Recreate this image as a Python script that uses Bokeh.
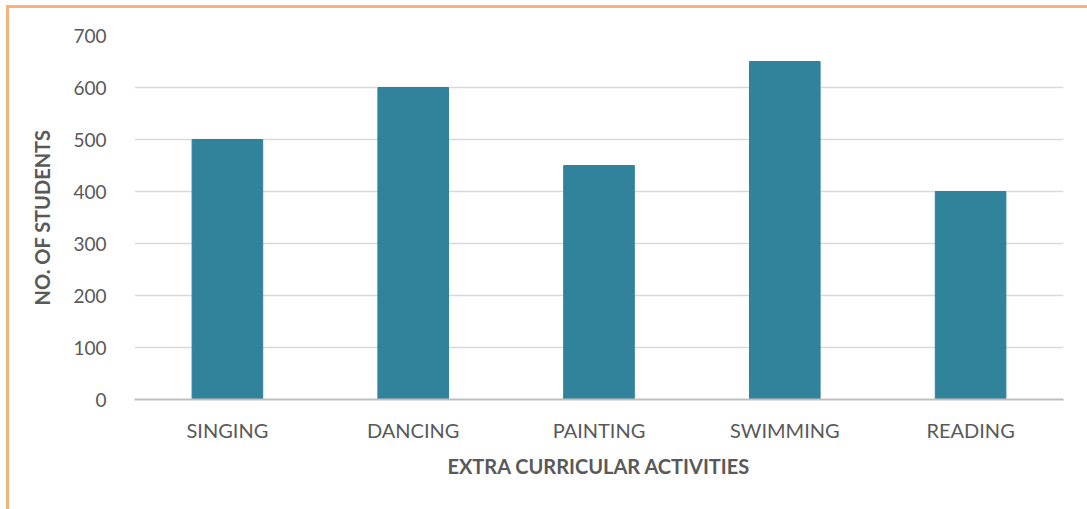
from bokeh.plotting import figure
from bokeh.models import FactorRange, Range1d, FixedTicker
from bokeh.embed import file_html
from bokeh.resources import INLINE

activities = ["SINGING", "DANCING", "PAINTING", "SWIMMING", "READING"]
students = [500, 600, 450, 650, 400]
y_ticks = [0, 100, 200, 300, 400, 500, 600, 700]

W, H = 1081, 506
p = figure(x_range=FactorRange(*activities), y_range=Range1d(0, 700),
           width=W, height=H, output_backend="svg", toolbar_location=None,
           min_border_left=125, min_border_right=27, min_border_top=27, min_border_bottom=115)
p.margin = (5, 0, 0, 6)
p.styles = {"border-top": "3px solid #F9B27A", "border-left": "3px solid #F9B27A"}

p.vbar(x=activities, top=students, width=0.38, color="#31829B")

p.outline_line_color = None
p.xgrid.grid_line_color = None
p.ygrid.grid_line_color = "#D9D9D9"
p.ygrid.grid_line_width = 1.5
p.yaxis.ticker = FixedTicker(ticks=y_ticks)

font = "Lato"
for ax in (p.xaxis, p.yaxis):
    ax.major_label_text_font = font
    ax.major_label_text_font_size = "19px"
    ax.major_label_text_color = "#595959"
    ax.axis_label_text_font = font
    ax.axis_label_text_font_size = "20px"
    ax.axis_label_text_font_style = "bold"
    ax.axis_label_text_color = "#595959"
    ax.major_tick_line_color = None
    ax.minor_tick_line_color = None

p.xaxis.major_label_text_font_size = "20px"

p.yaxis.axis_line_color = None
p.yaxis.major_label_standoff = 22
p.yaxis.axis_label = "NO. OF STUDENTS"
p.yaxis.axis_label_standoff = 16

p.xaxis.axis_line_color = "#BFBFBF"
p.xaxis.axis_line_width = 2
p.xaxis.major_label_standoff = 12
p.xaxis.axis_label = "EXTRA CURRICULAR ACTIVITIES"
p.xaxis.axis_label_standoff = 9

open("out.html", "w").write(file_html(p, INLINE))
